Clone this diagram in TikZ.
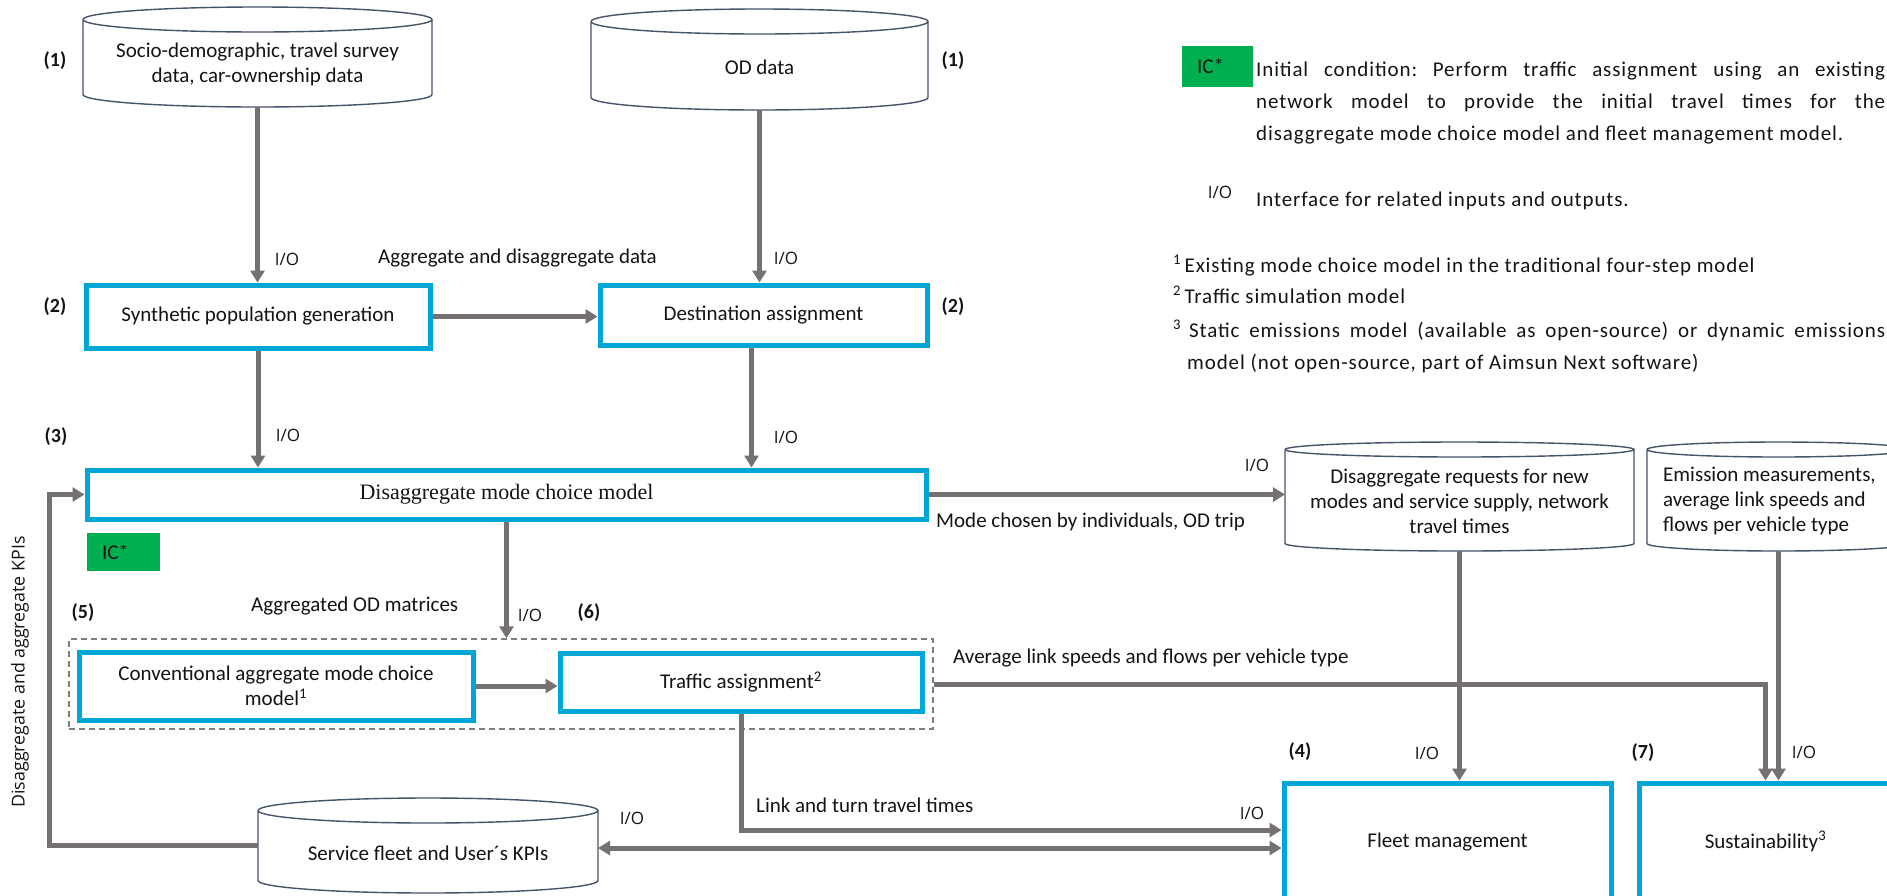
\documentclass[tikz,border=0pt]{standalone}
\usepackage{fontspec}
\setmainfont{Carlito}
\newfontfamily\legendfont[LetterSpace=4.2]{Carlito}
\newfontfamily\iofont{Open Sans}
\newfontfamily\modelserif{Liberation Serif}
\usetikzlibrary{arrows.meta,calc}
\frenchspacing

\definecolor{flowgray}{RGB}{118,113,113}
\definecolor{boxblue}{RGB}{0,166,214}
\definecolor{icgreen}{RGB}{0,176,80}
\definecolor{drumedge}{RGB}{68,84,106}
\definecolor{dashgray}{RGB}{127,127,127}
\definecolor{ink}{RGB}{20,20,20}

\tikzset{
  body/.style={font=\fontsize{21}{25}\selectfont, text=ink},
  stage/.style 2 args={draw=boxblue, line width=5pt, minimum width=#1, minimum height=#2,
    inner sep=0pt, align=center, body},
  drumgeom/.style 2 args={minimum width=#1, minimum height=#2, inner sep=0pt, outer sep=0pt},
  drumline/.style={draw=drumedge, line width=1.4pt},
  drumtext/.style={body, align=center, inner sep=0pt},
  lbl/.style={body, inner sep=0pt, text height=15pt, text depth=5pt},
  keytext/.style={font=\legendfont\fontsize{21}{25}\selectfont, text=ink, inner sep=0pt,
    text height=15pt, text depth=5pt},
  tag/.style={font=\bfseries\fontsize{20}{24}\selectfont, text=ink, inner sep=0pt},
  iolbl/.style={font=\iofont\fontsize{17}{20}\selectfont, text=ink, inner sep=0pt},
  icbox/.style 2 args={fill=icgreen, minimum width=#1, minimum height=#2, inner xsep=15pt,
    inner ysep=0pt, text width=#1-30pt, align=left, body},
  flow/.style={draw=flowgray, line width=5pt, -{Triangle[length=12pt,width=14pt]}},
  biflow/.style={draw=flowgray, line width=5pt,
    {Triangle[length=12pt,width=14pt]}-{Triangle[length=12pt,width=14pt]}},
  groupframe/.style={draw=dashgray, line width=1.5pt, dash pattern=on 6pt off 4pt,
    minimum width=#1, inner sep=0pt},
}

% outline of a database drum around the rectangle of node #1, ellipse half-height #2
\newcommand\drumoutline[2]{%
  \draw[drumline] let \p1=(#1.north west), \p2=(#1.south east), \n1={0.5*(\x2-\x1)} in
    (\x1,\y1-#2) arc[start angle=180, end angle=540, x radius={\n1*1pt}, y radius=#2]
    (\x1,\y1-#2) -- (\x1,\y2+#2)
      arc[start angle=180, end angle=360, x radius={\n1*1pt}, y radius=#2]
      -- (\x2,\y1-#2);}

\begin{document}
\begin{tikzpicture}[x=1pt, y=-1pt]
\path[use as bounding box, fill=white] (0,0) rectangle (1887,895);

% dashed frame round the aggregate models
\node[groupframe=864pt, minimum height=90pt] (grp) at (501,684) {};

% process boxes
\node[stage={344pt}{63pt}] (synth) at (258,316.5) {Synthetic population generation};
\node[stage={327pt}{60pt}] (dest) at (763.5,315) {Destination assignment};
\node[stage={839pt}{49pt}, font=\modelserif\fontsize{22}{26}\selectfont] (disagg) at (506.5,494.5)
  {Disaggregate mode choice model};
\node[stage={394pt}{68pt}] (conv) at (276,686)
  {Conventional aggregate mode choice\\model\textsuperscript{1}};
\node[stage={362pt}{58pt}] (traffic) at (741,682) {Traffic assignment\textsuperscript{2}};
\node[stage={327pt}{117pt}] (fleet) at (1447.5,841.5) {Fleet management};
\node[stage={253pt}{117pt}] (sust) at (1765.5,841.5) {Sustainability\textsuperscript{3}};

% data drums
\node[drumgeom={349pt}{100pt}] (socio) at (257.5,57) {};
\node[drumgeom={337pt}{101pt}] (od) at (759.5,59.5) {};
\node[drumgeom={349pt}{109pt}] (req) at (1459.5,496.5) {};
\node[drumgeom={263pt}{109pt}] (emis) at (1778.5,496.5) {};
\node[drumgeom={340pt}{95pt}] (svc) at (428,845.5) {};
\drumoutline{socio}{12.5pt}
\drumoutline{od}{12.5pt}
\drumoutline{req}{7.5pt}
\drumoutline{emis}{7.5pt}
\drumoutline{svc}{12.5pt}

\node[drumtext] (socio-t) at (257.5,64.5) {Socio-demographic, travel survey\\data, car-ownership data};
\node[drumtext] (od-t) at (759.5,67) {OD data};
\node[drumtext] (req-t) at (1459.5,501)
  {Disaggregate requests for new\\modes and service supply, network\\travel times};
\node[drumtext, align=left, anchor=west] (emis-t) at (1663,501)
  {Emission measurements,\\average link speeds and\\flows per vehicle type};
\node[drumtext] (svc-t) at (428,853) {Service fleet and User´s KPIs};

% initial-condition marker under the mode choice box
\node[icbox={73pt}{38pt}] (ic) at (123.5,552) {IC*};

% connectors
\draw[flow] (socio.south) -- (socio.south |- synth.north);
\draw[flow] (od.south) -- (od.south |- dest.north);
\draw[flow] (synth.east) -- (synth.east -| dest.west);
\draw[flow] (synth.south) -- (synth.south |- disagg.north);
\draw[flow] ([xshift=-12pt]dest.south) -- ([xshift=-12pt]dest.south |- disagg.north);
\draw[flow] (disagg.east) -- (disagg.east -| req.west);
\draw[flow] (disagg.south) -- (disagg.south |- grp.north);
\draw[flow] (conv.east) -- (conv.east -| traffic.west);
\draw[flow] (grp.east) -| (sust.north);
\draw[flow] (emis.south) -- (emis.south |- sust.north);
\draw[flow] (req.south) -- (req.south |- fleet.north);
\coordinate (fl-in1) at ([yshift=11.5pt]fleet.west);
\coordinate (fl-in2) at ([yshift=-6.5pt]fleet.west);
\draw[flow] (traffic.south) |- (fl-in1);
\draw[biflow] (svc.east |- fl-in2) -- (fl-in2);
\coordinate (kpi-rail) at (49,700);
\draw[flow] (svc.west) -| (kpi-rail |- disagg.west) -- (disagg.west);

% connector labels
\node[lbl, anchor=west] (l-agg) at (378,258) {Aggregate and disaggregate data};
\node[lbl, anchor=west] (l-aggod) at (251,606) {Aggregated OD matrices};
\node[lbl, anchor=west] (l-mode) at (936,522) {Mode chosen by individuals, OD trip};
\node[lbl, anchor=west] (l-avg) at (953,658) {Average link speeds and flows per vehicle type};
\node[lbl, anchor=west] (l-link) at (756,807) {Link and turn travel times};
\node[iolbl, font=\iofont\fontsize{17.8}{20}\selectfont, rotate=90] (l-kpi) at (20,672)
  {Disaggregate and aggregate KPIs};

% interface marks
\node[iolbl] (io1) at (287,259) {I/O};
\node[iolbl] (io2) at (786,258) {I/O};
\node[iolbl] (io3) at (288,435) {I/O};
\node[iolbl] (io4) at (786,437) {I/O};
\node[iolbl] (io5) at (1257,465) {I/O};
\node[iolbl] (io6) at (530,615) {I/O};
\node[iolbl] (io7) at (632,818) {I/O};
\node[iolbl] (io8) at (1252,813) {I/O};
\node[iolbl] (io9) at (1427,753) {I/O};
\node[iolbl] (io10) at (1804,752) {I/O};

% step numbers
\node[tag] (n1a) at (55,61) {(1)};
\node[tag] (n1b) at (953,61) {(1)};
\node[tag] (n2a) at (55,307) {(2)};
\node[tag] (n2b) at (953,307) {(2)};
\node[tag] (n3) at (56,437) {(3)};
\node[tag] (n5) at (83,613) {(5)};
\node[tag] (n6) at (589,613) {(6)};
\node[tag] (n4) at (1300,752) {(4)};
\node[tag] (n7) at (1643,753) {(7)};

% legend
\node[icbox={71pt}{41pt}] (ic-key) at (1217.5,66.5) {IC*};
\node[keytext, anchor=west] (ic-l1) at (1256,71)
  {\makebox[629pt][s]{Initial condition: Perform traffic assignment using an existing}};
\node[keytext, anchor=west] (ic-l2) at (1256,103)
  {\makebox[629pt][s]{network model to provide the initial travel times for the}};
\node[keytext, anchor=west] (ic-l3) at (1256,135)
  {disaggregate mode choice model and fleet management model.};
\node[iolbl] (io-key) at (1220,192) {I/O};
\node[keytext, anchor=west] (io-l) at (1256,201) {Interface for related inputs and outputs.};
\node[keytext, anchor=west] (fn1) at (1173,267)
  {\textsuperscript{1}\,Existing mode choice model in the traditional four-step model};
\node[keytext, anchor=west] (fn2) at (1173,298) {\textsuperscript{2}\,Traffic simulation model};
\node[keytext, anchor=west] (fn3) at (1173,332)
  {\makebox[712pt][s]{\textsuperscript{3}\hspace{8pt}Static emissions model (available as open-source) or dynamic emissions}};
\node[keytext, anchor=west] (fn4) at (1187,364) {model (not open-source, part of Aimsun Next software)};
\end{tikzpicture}
\end{document}
